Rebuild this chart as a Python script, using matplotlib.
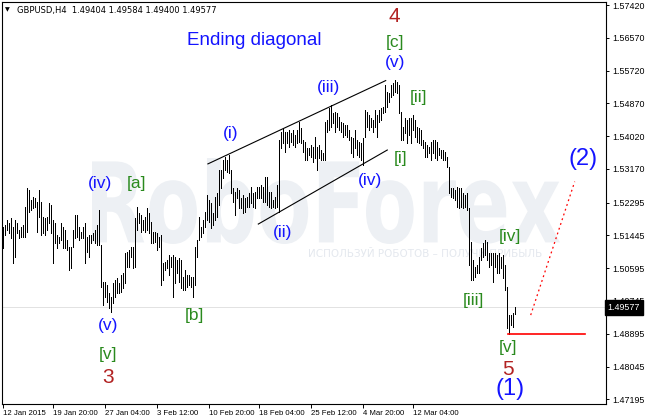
import matplotlib
matplotlib.use("Agg")
import numpy as np
import matplotlib.pyplot as plt
from matplotlib.collections import LineCollection
from matplotlib.textpath import TextPath
from matplotlib.patches import PathPatch
from matplotlib.font_manager import FontProperties
from matplotlib.transforms import Affine2D, blended_transform_factory

# GBPUSD H4 bars (high / low)
highs = [
    1.5166, 1.5172, 1.5185, 1.5177, 1.5190, 1.5166, 1.5185, 1.5177, 1.5159, 1.5166,
    1.5172, 1.5218, 1.5268, 1.5262, 1.5236, 1.5244, 1.5242, 1.5231, 1.5262, 1.5231,
    1.5192, 1.5190, 1.5192, 1.5228, 1.5223, 1.5185, 1.5177, 1.5146, 1.5141, 1.5177,
    1.5166, 1.5159, 1.5133, 1.5115, 1.5115, 1.5159, 1.5198, 1.5198, 1.5166, 1.5153,
    1.5166, 1.5177, 1.5141, 1.5146, 1.5146, 1.5151, 1.5159, 1.5172, 1.5211, 1.5120,
    1.5024, 1.5024, 1.5016, 1.4995, 1.4985, 1.5021, 1.5029, 1.5034, 1.5021, 1.5042,
    1.5047, 1.5099, 1.5102, 1.5107, 1.5115, 1.5115, 1.5190, 1.5218, 1.5203, 1.5198,
    1.5185, 1.5192, 1.5216, 1.5203, 1.5179, 1.5153, 1.5153, 1.5151, 1.5141, 1.5146,
    1.5073, 1.5076, 1.5081, 1.5094, 1.5089, 1.5094, 1.5089, 1.5081, 1.5086, 1.5081,
    1.5037, 1.5055, 1.5042, 1.5042, 1.5037, 1.5037, 1.5115, 1.5133, 1.5192, 1.5166,
    1.5185, 1.5205, 1.5249, 1.5236, 1.5228, 1.5203, 1.5244, 1.5254, 1.5314, 1.5314,
    1.5340, 1.5348, 1.5340, 1.5353, 1.5314, 1.5268, 1.5257, 1.5268, 1.5262, 1.5242,
    1.5249, 1.5242, 1.5244, 1.5254, 1.5270, 1.5254, 1.5257, 1.5270, 1.5270, 1.5275,
    1.5270, 1.5296, 1.5296, 1.5257, 1.5257, 1.5236, 1.5244, 1.5275, 1.5392, 1.5413,
    1.5423, 1.5413, 1.5413, 1.5418, 1.5410, 1.5418, 1.5405, 1.5418, 1.5439, 1.5423,
    1.5392, 1.5387, 1.5371, 1.5371, 1.5379, 1.5374, 1.5400, 1.5374, 1.5379, 1.5366,
    1.5358, 1.5439, 1.5444, 1.5475, 1.5483, 1.5462, 1.5465, 1.5462, 1.5452, 1.5439,
    1.5436, 1.5431, 1.5431, 1.5418, 1.5400, 1.5397, 1.5418, 1.5392, 1.5387, 1.5384,
    1.5397, 1.5470, 1.5465, 1.5457, 1.5449, 1.5444, 1.5470, 1.5457, 1.5470, 1.5475,
    1.5478, 1.5535, 1.5516, 1.5514, 1.5535, 1.5540, 1.5548, 1.5542, 1.5535, 1.5465,
    1.5426, 1.5449, 1.5444, 1.5449, 1.5449, 1.5457, 1.5444, 1.5426, 1.5423, 1.5418,
    1.5392, 1.5387, 1.5379, 1.5374, 1.5387, 1.5392, 1.5392, 1.5387, 1.5371, 1.5366,
    1.5366, 1.5361, 1.5348, 1.5322, 1.5268, 1.5268, 1.5262, 1.5270, 1.5268, 1.5268,
    1.5254, 1.5249, 1.5254, 1.5216, 1.5128, 1.5081, 1.5063, 1.5068, 1.5089, 1.5112,
    1.5125, 1.5133, 1.5128, 1.5099, 1.5099, 1.5099, 1.5099, 1.5094, 1.5099, 1.5089,
    1.5094, 1.5068, 1.5011, 1.4938, 1.4938, 1.4944, 1.49584,
]
lows = [
    1.5112, 1.5146, 1.5159, 1.5151, 1.5138, 1.5073, 1.5089, 1.5151, 1.5138, 1.5141,
    1.5141, 1.5141, 1.5153, 1.5205, 1.5211, 1.5216, 1.5218, 1.5153, 1.5192, 1.5146,
    1.5151, 1.5146, 1.5159, 1.5177, 1.5151, 1.5073, 1.5125, 1.5112, 1.5125, 1.5133,
    1.5112, 1.5112, 1.5107, 1.5055, 1.5060, 1.5115, 1.5138, 1.5141, 1.5133, 1.5138,
    1.5138, 1.5073, 1.5102, 1.5089, 1.5125, 1.5133, 1.5125, 1.5120, 1.5120, 1.5011,
    1.4964, 1.4985, 1.4972, 1.4956, 1.4946, 1.4969, 1.4985, 1.4995, 1.4995, 1.4998,
    1.5008, 1.5021, 1.5063, 1.5063, 1.5089, 1.5060, 1.5063, 1.5159, 1.5177, 1.5153,
    1.5159, 1.5153, 1.5159, 1.5151, 1.5125, 1.5125, 1.5128, 1.5107, 1.5115, 1.5016,
    1.5029, 1.5055, 1.5060, 1.5042, 1.5063, 1.4985, 1.5021, 1.5047, 1.5024, 1.5008,
    1.5003, 1.5003, 1.5011, 1.5016, 1.5011, 1.4985, 1.5016, 1.5089, 1.5133, 1.5141,
    1.5151, 1.5166, 1.5185, 1.5179, 1.5164, 1.5172, 1.5185, 1.5192, 1.5223, 1.5268,
    1.5293, 1.5314, 1.5309, 1.5306, 1.5254, 1.5231, 1.5198, 1.5242, 1.5216, 1.5216,
    1.5203, 1.5205, 1.5218, 1.5218, 1.5228, 1.5218, 1.5216, 1.5242, 1.5242, 1.5242,
    1.5231, 1.5231, 1.5223, 1.5218, 1.5216, 1.5218, 1.5216, 1.5218, 1.5205, 1.5371,
    1.5384, 1.5361, 1.5384, 1.5374, 1.5387, 1.5379, 1.5374, 1.5384, 1.5387, 1.5384,
    1.5361, 1.5340, 1.5340, 1.5353, 1.5348, 1.5335, 1.5345, 1.5314, 1.5345, 1.5340,
    1.5340, 1.5340, 1.5413, 1.5418, 1.5426, 1.5436, 1.5413, 1.5426, 1.5418, 1.5413,
    1.5400, 1.5405, 1.5400, 1.5392, 1.5358, 1.5348, 1.5371, 1.5353, 1.5348, 1.5340,
    1.5327, 1.5400, 1.5426, 1.5418, 1.5426, 1.5413, 1.5426, 1.5400, 1.5439, 1.5444,
    1.5462, 1.5465, 1.5478, 1.5491, 1.5503, 1.5509, 1.5516, 1.5514, 1.5462, 1.5392,
    1.5392, 1.5410, 1.5384, 1.5405, 1.5384, 1.5418, 1.5400, 1.5387, 1.5384, 1.5379,
    1.5371, 1.5348, 1.5348, 1.5358, 1.5340, 1.5358, 1.5345, 1.5340, 1.5353, 1.5345,
    1.5340, 1.5340, 1.5322, 1.5254, 1.5244, 1.5242, 1.5236, 1.5218, 1.5216, 1.5218,
    1.5216, 1.5218, 1.5211, 1.5068, 1.5029, 1.5029, 1.5037, 1.5047, 1.5047, 1.5081,
    1.5089, 1.5094, 1.5081, 1.5063, 1.5068, 1.5024, 1.5063, 1.5047, 1.5047, 1.5060,
    1.5034, 1.5003, 1.4904, 1.4889, 1.4912, 1.4907, 1.49400,
]
last_price = 1.49577
header = "GBPUSD,H4  1.49404 1.49584 1.49400 1.49577"

price_ticks = [1.57420, 1.56570, 1.55720, 1.54870, 1.54020, 1.53170, 1.52295,
               1.51445, 1.50595, 1.49745, 1.48895, 1.48045, 1.47195]
date_bars = [0, 25, 51, 77, 103, 128, 154, 180, 205]
date_labels = ["12 Jan 2015", "19 Jan 20:00", "27 Jan 04:00", "3 Feb 12:00",
               "10 Feb 20:00", "18 Feb 04:00", "25 Feb 12:00", "4 Mar 20:00",
               "12 Mar 04:00"]

# channel of the ending diagonal (bar, price)
upper_line = [(102.6, 1.5330), (191.5, 1.5546)]
lower_line = [(127.8, 1.5174), (192.3, 1.5366)]
wave5_low = 1.4889
target_line = [(264, 1.4938), (286, 1.5284)]

# wave labels: (bar, price, text, kind)
labels = [
    (196, 1.5711, "4", "num"),
    (196, 1.5646, "[c]", "sq"),
    (196, 1.5594, "(v)", "par"),
    (162.7, 1.5529, "(iii)", "par"),
    (207.7, 1.5503, "[ii]", "sq"),
    (114, 1.5408, "(i)", "par"),
    (198.7, 1.5345, "[i]", "sq"),
    (183.7, 1.5286, "(iv)", "par"),
    (139.7, 1.5153, "(ii)", "par"),
    (48.7, 1.5278, "(iv)", "par"),
    (66.7, 1.5278, "[a]", "sq"),
    (52.7, 1.4912, "(v)", "par"),
    (52.7, 1.4837, "[v]", "sq"),
    (52.7, 1.4775, "3", "num"),
    (95.7, 1.4936, "[b]", "sq"),
    (235.2, 1.4975, "[iii]", "sq"),
    (253.7, 1.5143, "[iv]", "sq"),
    (252.7, 1.4855, "[v]", "sq"),
    (252.7, 1.4798, "5", "num"),
    (253.7, 1.4746, "(1)", "big"),
    (290.2, 1.5343, "(2)", "big"),
]
styles = {
    "par": dict(color="#1414ff", fontsize=12.5),
    "sq": dict(color="#2a8a1e", fontsize=12.5),
    "num": dict(color="#b22222", fontsize=15),
    "big": dict(color="#1414ff", fontsize=17),
}

W, H = 650, 420
fig = plt.figure(figsize=(W / 100, H / 100), dpi=100)
ax = fig.add_axes([2 / W, 16 / H, 604 / W, 402 / H])
ax.set_xlim(-0.35, 301.65)
ax.set_ylim(1.47074, 1.57498)

# watermark
tp = TextPath((0, 0), "RoboForex", size=100,
              prop=FontProperties(family="DejaVu Sans", weight="bold"))
bb = tp.get_extents()
x0, x1, ytop, ybot = 92, 560, 158, 244
tr = (Affine2D().translate(-bb.x0, -bb.y0)
      .scale((x1 - x0) / bb.width, (ybot - ytop) / bb.height)
      .translate(x0, H - ybot).scale(1 / W, 1 / H) + fig.transFigure)
ax.add_patch(PathPatch(tp, transform=tr, fc="#edf0f4", ec="none", zorder=0))
ax.text(425 / W, 1 - 254 / H, "ИСПОЛЬЗУЙ РОБОТОВ – ПОЛУЧИ ПРИБЫЛЬ",
        transform=fig.transFigure, fontsize=7.5, color="#e4e8ee",
        ha="center", va="center", zorder=0.5)

ax.axhline(last_price, color="#e2e2e2", lw=0.7, zorder=1)

# bars
idx = np.arange(len(highs))
segs = [[(i, l), (i, h)] for i, h, l in zip(idx, highs, lows)]
ax.add_collection(LineCollection(segs, colors="black", linewidths=0.5,
                                 antialiaseds=False, zorder=2))

# channel lines and projections
for ln in (upper_line, lower_line):
    ax.plot([p[0] for p in ln], [p[1] for p in ln], color="black", lw=0.8, zorder=2)
ax.plot([252.6, 291], [wave5_low, wave5_low], color="red", lw=1.2, zorder=2)
ax.plot([p[0] for p in target_line], [p[1] for p in target_line], color="red",
        lw=0.9, ls=(0, (1.5, 2.5)), zorder=2)

ax.text(125.6, 1.5651, "Ending diagonal", color="#1414ff", fontsize=13.5,
        family="Liberation Sans", ha="center", va="center", zorder=3)
for x, y, t, k in labels:
    ax.text(x, y, t, family="Liberation Sans", ha="center", va="center",
            zorder=3, **styles[k])

# axes styling
for s in ax.spines.values():
    s.set_linewidth(0.8)
ax.yaxis.tick_right()
ax.set_yticks(price_ticks)
ax.set_yticklabels([f"{p:.5f}" for p in price_ticks])
ax.set_xticks(date_bars)
ax.set_xticklabels(date_labels, ha="left")
ax.tick_params(axis="y", direction="out", length=2.5, width=0.7, pad=2,
               labelsize=6.4, labelfontfamily="Liberation Sans")
ax.tick_params(axis="x", direction="out", length=3, width=0.7, pad=1.5,
               labelsize=5.6, labelfontfamily="Liberation Sans")

ax.text(1.003, last_price, f"{last_price:.5f}", family="Liberation Sans",
        transform=blended_transform_factory(ax.transAxes, ax.transData),
        color="white", fontsize=6.4, ha="left", va="center", clip_on=False,
        zorder=5, bbox=dict(boxstyle="square,pad=0.3", fc="black", ec="black"))

fig.text(5 / W, 1 - 10 / H, "▼", fontsize=4.5, va="center")
fig.text(17 / W, 1 - 10 / H, header, fontsize=6, va="center")

fig.savefig("out.png", dpi=100)
